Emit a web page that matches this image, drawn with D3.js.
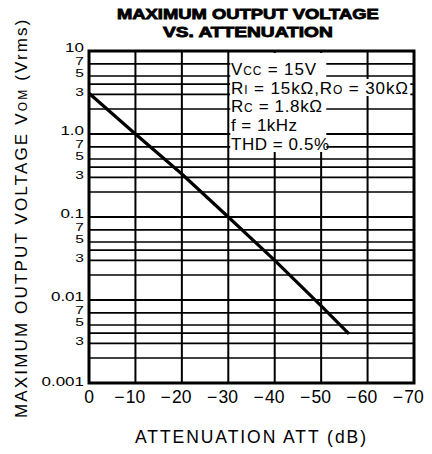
<!DOCTYPE html>
<html><head><meta charset="utf-8">
<script src="https://cdn.jsdelivr.net/npm/d3@7"></script>
<style>
html,body{margin:0;padding:0;background:#fff;}
svg text{font-family:"Liberation Sans",Arial,Helvetica,sans-serif;fill:#000;}
</style></head>
<body>
<svg id="chart" width="432" height="454"></svg>
<script>
// ---- data ----
const attenuation = [0, -10, -20, -30, -40, -50, -56];      // dB
const vom = [3.1, 1.0, 0.33, 0.1, 0.03, 0.0085, 0.0039];   // Vrms
const xTicks = [0, -10, -20, -30, -40, -50, -60, -70];
const yMajor = [10, 1, 0.1, 0.01, 0.001];
const yMajorLabels = ["10", "1.0", "0.1", "0.01", "0.001"];
const yMinorFactors = [7, 5, 4, 3, 2];
const yMinorLabels = ["7", "5", "3"];
const titleLines = ["MAXIMUM OUTPUT VOLTAGE", "VS. ATTENUATION"];
const xTitle = "ATTENUATION ATT (dB)";

const svg = d3.select("#chart");
const L = 89, R = 414, T = 51, B = 383;
const x = d3.scaleLinear().domain([0, -70]).range([L, R]);
const y = d3.scaleLog().domain([0.001, 10]).range([B, T]);

function fitWidth(sel, target) {
  const node = sel.node();
  const n = node.textContent.length;
  const w = node.getComputedTextLength();
  if (n > 1) sel.attr("letter-spacing", ((target - w) / (n - 1)).toFixed(3));
}
function fitScale(sel, x0, y0, target) {
  const w = sel.node().getComputedTextLength();
  sel.attr("transform", `translate(${x0},${y0}) scale(${(target / w).toFixed(4)},1)`);
}

// ---- gridlines ----
const g = svg.append("g");
const minorVals = [];
[1, 0.1, 0.01, 0.001].forEach(d => yMinorFactors.forEach(f => minorVals.push(d * f)));
g.selectAll("line.hmin").data(minorVals).enter().append("line")
  .attr("x1", L).attr("x2", R).attr("y1", d => y(d)).attr("y2", d => y(d))
  .attr("stroke", "#000").attr("stroke-width", 1.7);
g.selectAll("line.hmaj").data(yMajor.slice(1, 4)).enter().append("line")
  .attr("x1", L).attr("x2", R).attr("y1", d => y(d)).attr("y2", d => y(d))
  .attr("stroke", "#000").attr("stroke-width", 2.2);
g.selectAll("line.v").data(xTicks.slice(1, 7)).enter().append("line")
  .attr("x1", d => x(d)).attr("x2", d => x(d)).attr("y1", T).attr("y2", B)
  .attr("stroke", "#000").attr("stroke-width", 2);

// ---- legend block (white background masks grid) ----
svg.append("rect").attr("x", x(-30) + 2).attr("y", 53).attr("width", 96).attr("height", 99).attr("fill", "#fff");
svg.append("rect").attr("x", x(-30) + 2).attr("y", 79).attr("width", 180).attr("height", 17).attr("fill", "#fff");
const leg = svg.append("g").attr("font-size", 17);
const lx = 231;
let t = leg.append("text").attr("x", lx).attr("y", 75);
t.append("tspan").text("V"); t.append("tspan").attr("font-size", 12).text("CC"); t.append("tspan").text(" = 15V");
fitWidth(t, 85);
t = leg.append("text").attr("x", lx).attr("y", 93.5);
t.append("tspan").text("R"); t.append("tspan").attr("font-size", 12).text("I"); t.append("tspan").text(" = 15kΩ,R");
t.append("tspan").attr("font-size", 12).text("O"); t.append("tspan").text(" = 30kΩ");
fitWidth(t, 177);
t = leg.append("text").attr("x", lx).attr("y", 111.5);
t.append("tspan").text("R"); t.append("tspan").attr("font-size", 12).text("C"); t.append("tspan").text(" = 1.8kΩ");
fitWidth(t, 91);
t = leg.append("text").attr("x", lx).attr("y", 131).text("f = 1kHz");
fitWidth(t, 66);
t = leg.append("text").attr("x", lx).attr("y", 149.5).text("THD = 0.5%");
fitWidth(t, 98);

// ---- data line ----
const line = d3.line().x((d, i) => x(attenuation[i])).y(d => y(d));
svg.append("path").datum(vom).attr("d", line)
  .attr("fill", "none").attr("stroke", "#000").attr("stroke-width", 3.2);

// ---- frame ----
svg.append("rect").attr("x", L).attr("y", T).attr("width", R - L).attr("height", B - T)
  .attr("fill", "none").attr("stroke", "#000").attr("stroke-width", 3);

// ---- y tick labels (vertically compressed like the original) ----
const yl = svg.append("g").attr("text-anchor", "end");
yl.selectAll("text.maj").data(yMajor).enter().append("text")
  .attr("font-size", 17)
  .attr("transform", d => `translate(84,${y(d) + (d === 0.001 ? 3 : 1)}) scale(1,0.8)`)
  .text((d, i) => yMajorLabels[i]);
const minorLab = [];
[1, 0.1, 0.01, 0.001].forEach(d => yMinorLabels.forEach(l => minorLab.push({v: d * (+l), l})));
yl.selectAll("text.min").data(minorLab).enter().append("text")
  .attr("font-size", 15.5)
  .attr("transform", d => `translate(84,${y(d.v) + 1.5}) scale(1,0.75)`)
  .text(d => d.l);

// ---- x tick labels ----
const xl = svg.append("g").attr("font-size", 17.5);
xTicks.forEach(v => {
  const s = String(Math.abs(v));
  xl.append("text").attr("x", x(v)).attr("y", 403).attr("text-anchor", "middle").text(s);
  if (v !== 0) xl.append("text").attr("x", x(v) - 11).attr("y", 403).attr("text-anchor", "end").text("−");
});

// ---- titles ----
const t1 = svg.append("text").attr("font-size", 15.5).attr("font-weight", "bold")
  .attr("stroke", "#000").attr("stroke-width", 0.9).text(titleLines[0]);
fitScale(t1, 117, 18.5, 262);
const t2 = svg.append("text").attr("font-size", 15.5).attr("font-weight", "bold")
  .attr("stroke", "#000").attr("stroke-width", 0.9).text(titleLines[1]);
fitScale(t2, 163, 37, 170);

const xt = svg.append("text").attr("x", 135).attr("y", 443).attr("font-size", 17.5).text(xTitle);
fitWidth(xt, 231);

const yt = svg.append("text").attr("transform", "translate(27,418) rotate(-90)").attr("font-size", 17);
yt.append("tspan").text("MAXIMUM  OUTPUT  VOLTAGE  V");
yt.append("tspan").attr("font-size", 12).text("OM");
yt.append("tspan").text("  (Vrms)");
fitWidth(yt, 407);
</script>
</body></html>
